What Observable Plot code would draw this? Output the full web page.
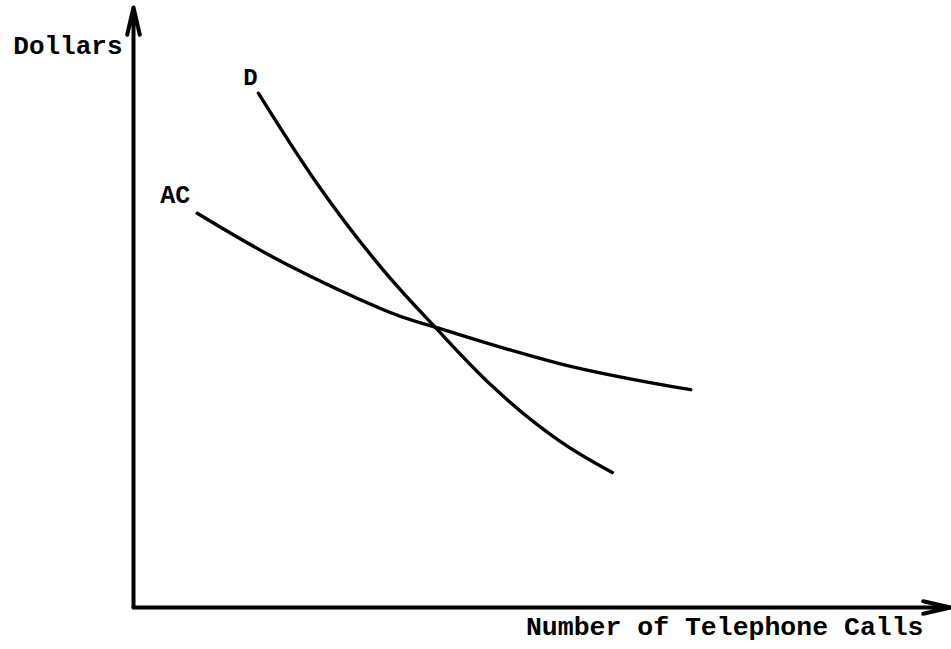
<!DOCTYPE html>
<html>
<head>
<meta charset="utf-8">
<script src="https://cdn.jsdelivr.net/npm/d3@7"></script>
<script src="https://cdn.jsdelivr.net/npm/@observablehq/plot@0.6"></script>
<style>
  html, body { margin: 0; padding: 0; background: #fff; }
  #chart svg { display: block; }
</style>
</head>
<body>
<div id="chart"></div>
<script>
// Demand curve D (quantity of calls, dollars)
const dQty = [15.3, 22.5, 30.6, 37.0, 43.9, 52.0, 58.6];
const dPrice = [85.7, 70.6, 56.2, 46.6, 36.9, 27.9, 22.5];
// Average cost curve AC
const acQty = [7.8, 18.6, 30.8, 37.0, 52.0, 68.2];
const acPrice = [65.7, 57.3, 49.5, 46.7, 40.7, 36.3];
// Text
const curveLabels = ["D", "AC"];
const yTitle = "Dollars";
const xTitle = "Number of Telephone Calls";

const dData = dQty.map((q, i) => ({q, p: dPrice[i]}));
const acData = acQty.map((q, i) => ({q, p: acPrice[i]}));

const font = "'Liberation Mono', 'DejaVu Sans Mono', monospace";

const chart = Plot.plot({
  width: 951,
  height: 649,
  marginLeft: 133,
  marginRight: 1,
  marginTop: 7,
  marginBottom: 42,
  x: {domain: [0, 100], axis: null},
  y: {domain: [0, 100], axis: null},
  style: {background: "#fff", fontFamily: font},
  marks: [
    Plot.arrow([{x1: 0, y1: 0, x2: 0, y2: 100}], {
      x1: "x1", y1: "y1", x2: "x2", y2: "y2",
      stroke: "#000", strokeWidth: 4, headLength: 10.5, headAngle: 26
    }),
    Plot.arrow([{x1: 0, y1: 0, x2: 100, y2: 0}], {
      x1: "x1", y1: "y1", x2: "x2", y2: "y2",
      stroke: "#000", strokeWidth: 4, headLength: 10.5, headAngle: 26
    }),
    Plot.line(dData, {x: "q", y: "p", curve: "natural", stroke: "#000", strokeWidth: 3.4}),
    Plot.line(acData, {x: "q", y: "p", curve: "natural", stroke: "#000", strokeWidth: 3.4}),
    Plot.text([curveLabels[0]], {
      x: () => dQty[0], y: () => dPrice[0], dx: -8, dy: -16,
      text: d => d, fontSize: 24, fontWeight: "bold", fill: "#000", textAnchor: "middle"
    }),
    Plot.text([curveLabels[1]], {
      x: () => acQty[0], y: () => acPrice[0], dx: -22, dy: -18,
      text: d => d, fontSize: 25, fontWeight: "bold", fill: "#000", textAnchor: "middle"
    }),
    Plot.text([yTitle], {
      x: () => 0, y: () => 100, dx: -11, dy: 38,
      text: d => d, fontSize: 26, fontWeight: "bold", fill: "#000", textAnchor: "end"
    }),
    Plot.text([xTitle], {
      x: () => 100, y: () => 0, dx: -27, dy: 19,
      text: d => d, fontSize: 26.5, fontWeight: "bold", fill: "#000", textAnchor: "end"
    })
  ]
});
document.getElementById("chart").appendChild(chart);
</script>
</body>
</html>
